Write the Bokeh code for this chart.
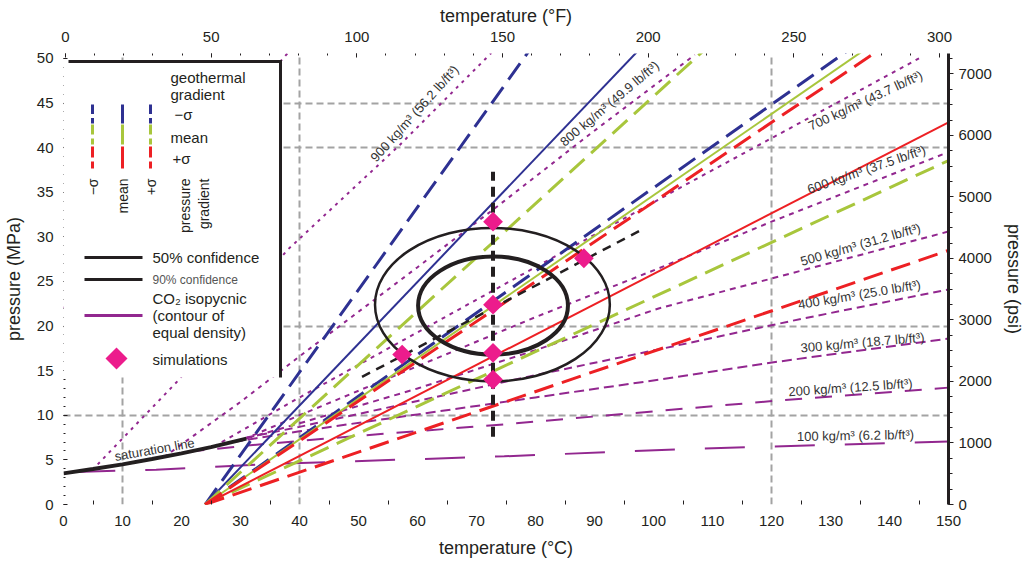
import numpy as np
from bokeh.plotting import figure
from bokeh.models import (Range1d, LinearAxis, FixedTicker, Label, Title,
                          BoxAnnotation, PolyAnnotation)
from bokeh.embed import file_html
from bokeh.resources import INLINE

FONT = "Liberation Sans"
BLACK = "#231f20"
BLUE = "#2e3192"
GREEN = "#a8c63c"
RED = "#ed2024"
PURPLE = "#92278f"
MAGENTA = "#ec1c8c"
GRID = "#a3a3a3"

# ---------------- data ----------------
T_min, T_max = 0, 150            # deg C
P_min, P_max = 0, 50.55          # MPa
F_axis = (-0.7, 303.1)           # top axis scale as drawn
MPA_TO_PSI = 145.0377

surface_T = 24.0                 # deg C at 0 MPa, start of every P-T path
# slope dP/dT (MPa per deg C); order: pressure gradient -sigma, mean, +sigma
slopes_geo_minus = [0.467, 0.693, 0.926]   # geothermal gradient -sigma
slopes_geo_mean = [0.306, 0.456, 0.602]    # geothermal gradient mean
slopes_geo_plus = [0.226, 0.340, 0.446]    # geothermal gradient +sigma

sat_T = [0, 5, 10, 15, 20, 25, 31]
sat_P = [3.49, 3.97, 4.50, 5.09, 5.73, 6.43, 7.38]

densities = [100, 200, 300, 400, 500, 600, 700, 800, 900, 1000]
iso_T = {
    100: [2, 15.7, 26.7, 37.4, 74.7, 106.6, 150],
    200: [21, 31, 50, 75, 101, 122, 150],
    300: [28.7, 40, 60, 80, 101, 121, 150],
    400: [31, 40, 60, 80, 101, 125, 150],
    500: [31, 40, 60, 80, 101, 125, 150],
    600: [30.5, 40, 60, 80, 101, 120, 150],
    700: [25.5, 40, 60, 80, 105.6, 145],
    800: [17, 30, 40, 60, 73.5, 89.2, 107],
    900: [5.8, 19.3, 37.9, 57, 72.5],
    1000: [0, 38],
}
iso_P = {
    100: [3.65, 3.9, 4.26, 4.6, 5.4, 6.25, 7.06],
    200: [5.9, 6.6, 7.7, 9.0, 10.5, 11.7, 13.1],
    300: [7.0, 8.2, 10.1, 12.0, 14.0, 16.0, 18.6],
    400: [7.5, 8.7, 11.6, 14.5, 17.4, 20.8, 24.1],
    500: [7.4, 9.1, 13.0, 17.3, 22.0, 26.2, 30.6],
    600: [7.3, 10.0, 15.5, 21.0, 26.5, 31.7, 39.5],
    700: [6.5, 12.0, 19.3, 26.6, 35.9, 50.0],
    800: [5.3, 11.5, 16.6, 26.6, 33.4, 41.5, 50.4],
    900: [4.5, 13.8, 28.5, 40.3, 50.6],
    1000: [22, 50.6],
}
labelled_densities = [100, 200, 300, 400, 500, 600, 700, 800, 900]

sim_T = [72.8, 88.2, 72.8, 57.4, 72.8, 72.8]
sim_P = [31.7, 27.6, 22.4, 16.8, 17.0, 14.0]

conf_levels = ["50%", "90%"]
ell_T = [72.8, 72.7]
ell_P = [22.3, 22.4]
ell_w = [25.4, 39.8]
ell_h = [11.0, 17.2]

vert_T = [72.8, 72.8]
vert_P = [7.6, 37.3]
diag_T = [50.6, 98.0]
diag_P = [14.3, 30.8]

# ---------------- figure ----------------
p = figure(frame_width=885, frame_height=451,
           x_range=Range1d(T_min, T_max), y_range=Range1d(P_min, P_max),
           output_backend="svg", toolbar_location=None,
           min_border_left=0, min_border_right=0,
           min_border_top=0, min_border_bottom=0)
p.outline_line_color = None
p.extra_x_ranges = {"F": Range1d(*F_axis)}
p.extra_y_ranges = {"psi": Range1d(P_min * MPA_TO_PSI, P_max * MPA_TO_PSI)}

bottom = p.below[0]
left = p.left[0]
top = LinearAxis(x_range_name="F")
right = LinearAxis(y_range_name="psi")
p.add_layout(top, "above")
p.add_layout(right, "right")

for ax in (bottom, left, top, right):
    ax.major_label_text_font = FONT
    ax.major_label_text_font_size = "15px"
    ax.major_label_text_color = BLACK
    ax.axis_label_text_font = FONT
    ax.axis_label_text_font_size = "18px"
    ax.axis_label_text_font_style = "normal"
    ax.axis_label_text_color = BLACK
    ax.major_tick_line_color = BLACK
    ax.minor_tick_line_color = BLACK

bottom.axis_label = "temperature (°C)"
bottom.ticker = FixedTicker(ticks=list(range(0, 151, 10)),
                            minor_ticks=list(range(5, 150, 10)))
bottom.axis_line_color = None
bottom.major_tick_in = 0
bottom.major_tick_out = 0
bottom.minor_tick_in = 4
bottom.minor_tick_out = 0
bottom.major_label_standoff = 11
bottom.axis_label_standoff = 9

left.axis_label = "pressure (MPa)"
left.ticker = FixedTicker(ticks=list(range(0, 51, 5)),
                          minor_ticks=list(range(0, 51, 1)))
left.axis_line_color = None
left.major_tick_in = 4
left.major_tick_out = 0
left.minor_tick_in = 2
left.minor_tick_out = 0
left.major_label_standoff = 10
left.axis_label_standoff = 10

top.ticker = FixedTicker(ticks=list(range(0, 301, 50)),
                         minor_ticks=list(range(0, 301, 10)))
top.axis_line_color = None
top.major_tick_in = 4
top.major_tick_out = 0
top.minor_tick_in = 2
top.minor_tick_out = 0
top.major_label_standoff = 12

right.axis_label = "pressure (psi)"
right.ticker = FixedTicker(ticks=list(range(0, 7001, 1000)),
                           minor_ticks=list(range(0, 7301, 250)))
right.axis_line_color = BLACK
right.axis_line_width = 3
right.major_tick_in = 0
right.major_tick_out = 5
right.minor_tick_in = 0
right.minor_tick_out = 4
right.major_label_standoff = 5
right.axis_label_standoff = 9

# the top axis title sits left of centre in the reference
p.add_layout(Title(text="temperature (°F)", align="center", offset=-33,
                   standoff=6, text_font=FONT, text_font_size="18px",
                   text_font_style="normal", text_color=BLACK), "above")

p.xgrid.ticker = FixedTicker(ticks=[10, 40, 120])
p.ygrid.ticker = FixedTicker(ticks=[10, 20, 40, 45])
for g in (p.xgrid, p.ygrid):
    g.grid_line_color = GRID
    g.grid_line_width = 2
    g.grid_line_dash = "7 4"

# ---------------- isopycnic lines ----------------
iso_dash = {100: "40 30", 200: "17 13", 300: "10 5", 400: "8 5", 500: "6 5",
            600: "5 5", 700: "4 5", 800: "4 5", 900: "3 5", 1000: "3 5"}
for d in densities:
    p.line(iso_T[d], iso_P[d], line_color=PURPLE, line_width=2,
           line_dash=iso_dash[d])

# ---------------- P-T paths ----------------
for color, slopes in zip([BLUE, GREEN, RED],
                         [slopes_geo_minus, slopes_geo_mean, slopes_geo_plus]):
    for k, s in enumerate(slopes):
        Ts = [surface_T, T_max]
        Ps = [0, s * (T_max - surface_T)]
        if k == 1:
            p.line(Ts, Ps, line_color=color, line_width=2)
        else:
            p.line(Ts, Ps, line_color=color, line_width=3, line_dash="20 9")

# saturation line
p.line(sat_T, sat_P, line_color=BLACK, line_width=4)

# confidence ellipses
p.ellipse(x=ell_T, y=ell_P, width=ell_w, height=ell_h, fill_color=None,
          line_color=BLACK, line_width=[4, 2.5])

# simulation lines
p.line(vert_T, vert_P, line_color=BLACK, line_width=4, line_dash="10 6")
p.line(diag_T, diag_P, line_color=BLACK, line_width=2.5, line_dash="9 7")

# simulations
p.scatter(sim_T, sim_P, marker="square", angle=np.pi / 4, size=14,
          fill_color=MAGENTA, line_color=None)


# ---------------- annotation helpers (screen pixel layout -> data) ----------------
FX0, FX1, FY0, FY1 = 63.0, 948.0, 503.0, 52.0


def tx(x):
    return T_min + (x - FX0) / (FX1 - FX0) * (T_max - T_min)


def py(y):
    return P_min + (FY0 - y) / (FY0 - FY1) * (P_max - P_min)


def text(x, y, s, size="13px", align="left", angle=0.0, color=BLACK):
    p.add_layout(Label(x=tx(x), y=py(y), text=s, text_font=FONT,
                       text_font_size=size, text_color=color,
                       text_align=align, text_baseline="middle",
                       angle=angle))


def rect(x0, x1, y0, y1, color):
    p.add_layout(BoxAnnotation(left=tx(x0), right=tx(x1), top=py(y0),
                               bottom=py(y1), fill_color=color, fill_alpha=1,
                               line_color=None, line_alpha=0))


# isopycnic labels
iso_label_pos = {900: (414, 112, 48), 800: (609, 102, 40), 700: (865, 99, 25),
                 600: (866, 168, 19), 500: (860, 243, 16), 400: (859, 293, 9.5),
                 300: (862, 341, 5), 200: (850, 386, 4), 100: (855, 434, 1)}
for d in labelled_densities:
    x, y, a = iso_label_pos[d]
    text(x, y, f"{d} kg/m³ ({d * 0.062428:.1f} lb/ft³)", size="13px",
         align="center", angle=np.deg2rad(a), color="#333333")

text(154, 448, "saturation line", size="13px", align="center",
     angle=np.deg2rad(10), color="#333333")

# ---------------- legend ----------------
rect(63, 280, 60, 376, "white")
rect(68, 281.5, 58.5, 61.5, BLACK)
rect(278.5, 281.5, 58.5, 376, BLACK)

text(170, 76, "geothermal", size="15px")
text(170, 93, "gradient", size="15px")
text(174, 113, "−σ", size="15px")
text(170, 136, "mean", size="15px")
text(172, 157, "+σ", size="15px")

rows = [(BLUE, 103, 122), (GREEN, 123, 143), (RED, 145, 167)]
for cx, dashed in [(92, True), (122, False), (150, True)]:
    for color, y0, y1 in rows:
        if dashed:
            mid = y0 + (y1 - y0) * 0.5
            rect(cx - 1.5, cx + 1.5, y0, mid, color)
            rect(cx - 1.5, cx + 1.5, mid + 4, y1, color)
        else:
            rect(cx - 1.5, cx + 1.5, y0, y1, color)

for cx, s in [(92, "−σ"), (122, "mean"), (150, "+σ"), (184, "pressure"),
              (203, "gradient")]:
    text(cx, 177, s, size="14px", align="right", angle=np.pi / 2)

rect(84, 142, 254.5, 257.5, BLACK)
text(152, 256, conf_levels[0] + " confidence", size="15px")
rect(84, 142, 276.5, 279.5, BLACK)
text(152, 278, conf_levels[1] + " confidence", size="12px", color="#555555")
rect(84, 142, 312.5, 315.5, PURPLE)
text(152, 297, "CO₂ isopycnic", size="15px")
text(152, 314, "(contour of", size="15px")
text(152, 331, "equal density)", size="15px")
p.add_layout(PolyAnnotation(xs=[tx(116), tx(127), tx(116), tx(105)],
                            ys=[py(346), py(357), py(368), py(357)],
                            fill_color=MAGENTA, fill_alpha=1, line_color=None))
text(152, 358, "simulations", size="15px")

open("out.html", "w").write(file_html(p, INLINE))
